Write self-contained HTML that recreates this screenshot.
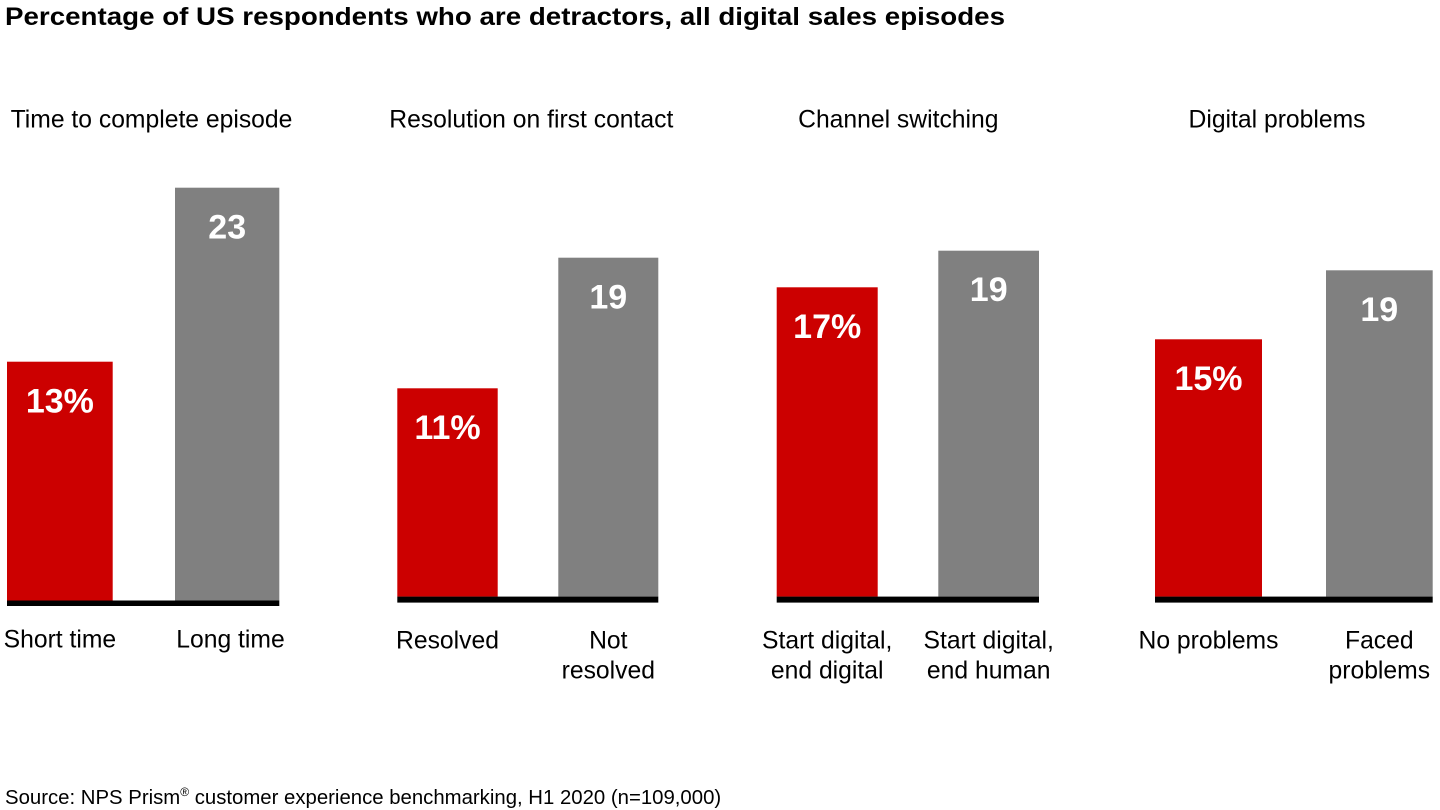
<!DOCTYPE html>
<html>
<head>
<meta charset="utf-8">
<style>
  html, body { margin: 0; padding: 0; background: #ffffff; }
  body { width: 1440px; height: 810px; overflow: hidden; }
  svg { display: block; }
  text { font-family: "Liberation Sans", Arial, sans-serif; }
  .title { font-weight: bold; font-size: 25px; fill: #000; }
  .cat { font-size: 24.7px; fill: #000; }
  .lbl { font-size: 24.7px; fill: #000; }
  .val { font-weight: bold; font-size: 34px; fill: #fff; }
  .src { font-size: 20.35px; fill: #000; }
</style>
</head>
<body>
<svg width="1440" height="810" viewBox="0 0 1440 810" xmlns="http://www.w3.org/2000/svg">
  <rect x="0" y="0" width="1440" height="810" fill="#ffffff"/>

  <!-- Title -->
  <text class="title" x="5" y="25" textLength="1000" lengthAdjust="spacingAndGlyphs">Percentage of US respondents who are detractors, all digital sales episodes</text>

  <!-- Category titles -->
  <text class="cat" x="151.5" y="127.7" text-anchor="middle">Time to complete episode</text>
  <text class="cat" x="531.3" y="127.7" text-anchor="middle">Resolution on first contact</text>
  <text class="cat" x="898.3" y="127.7" text-anchor="middle">Channel switching</text>
  <text class="cat" x="1277" y="127.7" text-anchor="middle">Digital problems</text>

  <!-- Panel 1 -->
  <rect x="7" y="361.7" width="105.7" height="239" fill="#CC0000"/>
  <rect x="175" y="187.7" width="104.3" height="413" fill="#808080"/>
  <rect x="7" y="600.5" width="272.3" height="5.5" fill="#000"/>
  <text class="val" x="59.9" y="412.4" text-anchor="middle">13%</text>
  <text class="val" x="227.2" y="238.4" text-anchor="middle">23</text>
  <text class="lbl" x="59.9" y="647.7" text-anchor="middle">Short time</text>
  <text class="lbl" x="230.5" y="647.7" text-anchor="middle">Long time</text>

  <!-- Panel 2 -->
  <rect x="397.3" y="388.3" width="100.4" height="208.4" fill="#CC0000"/>
  <rect x="558.3" y="257.7" width="100" height="339" fill="#808080"/>
  <rect x="397.3" y="596.6" width="261" height="6" fill="#000"/>
  <text class="val" x="447.5" y="439.2" text-anchor="middle">11%</text>
  <text class="val" x="608.3" y="308.4" text-anchor="middle">19</text>
  <text class="lbl" x="447.5" y="648.3" text-anchor="middle">Resolved</text>
  <text class="lbl" x="608.3" y="648.3" text-anchor="middle">Not</text>
  <text class="lbl" x="608.3" y="678.3" text-anchor="middle">resolved</text>

  <!-- Panel 3 -->
  <rect x="776.7" y="287.3" width="101" height="309.4" fill="#CC0000"/>
  <rect x="938.3" y="250.7" width="100.7" height="346" fill="#808080"/>
  <rect x="776.7" y="596.6" width="262.3" height="6" fill="#000"/>
  <text class="val" x="827.2" y="338.2" text-anchor="middle">17%</text>
  <text class="val" x="988.7" y="301.2" text-anchor="middle">19</text>
  <text class="lbl" x="827.2" y="648.3" text-anchor="middle">Start digital,</text>
  <text class="lbl" x="827.2" y="678.3" text-anchor="middle">end digital</text>
  <text class="lbl" x="988.7" y="648.3" text-anchor="middle">Start digital,</text>
  <text class="lbl" x="988.7" y="678.3" text-anchor="middle">end human</text>

  <!-- Panel 4 -->
  <rect x="1155" y="339.3" width="107" height="257.4" fill="#CC0000"/>
  <rect x="1326" y="270.3" width="106.7" height="326.4" fill="#808080"/>
  <rect x="1155" y="596.6" width="277.7" height="6" fill="#000"/>
  <text class="val" x="1208.5" y="390.2" text-anchor="middle">15%</text>
  <text class="val" x="1379.3" y="321.2" text-anchor="middle">19</text>
  <text class="lbl" x="1208.5" y="648.3" text-anchor="middle">No problems</text>
  <text class="lbl" x="1379.3" y="648.3" text-anchor="middle">Faced</text>
  <text class="lbl" x="1379.3" y="678.3" text-anchor="middle">problems</text>

  <!-- Source -->
  <text class="src" x="5" y="804">Source: NPS Prism<tspan font-size="12" dy="-8">®</tspan><tspan dy="8"> customer experience benchmarking, H1 2020 (n=109,000)</tspan></text>
</svg>
</body>
</html>
